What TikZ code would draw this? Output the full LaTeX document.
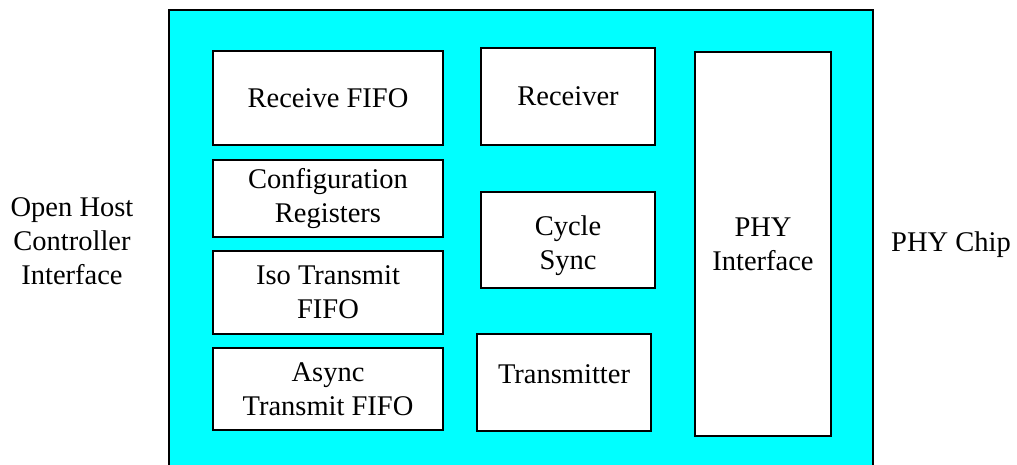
\documentclass[tikz,border=0pt]{standalone}
\usepackage{fontspec}
\setmainfont{Liberation Serif}
\definecolor{chipcyan}{RGB}{0,255,255}

\begin{document}
\begin{tikzpicture}[x=1pt,y=-1pt,line width=1.5pt,
		lbl/.style={align=center,font=\fontsize{28.5}{34}\selectfont}]
				\useasboundingbox(0,0)rectangle(1017,465);
				\fill[chipcyan](169,10)rectangle(873,465);
				\draw(169,465)--(169,10)--(873,10)--(873,465);
				\node[lbl](ohci)at(72,241){Open Host\\Controller\\Interface};
				\node[lbl](phychip)at(951,245){PHY Chip};
				\draw[fill=white](213,51)rectangle(443,145)node[midway,lbl](rxfifo){Receive FIFO};
				\draw[fill=white](213,160)rectangle(443,237)node[midway,lbl](cfgreg){Configuration\\Registers};
				\draw[fill=white](213,251)rectangle(443,334)node[midway,lbl](isofifo){Iso Transmit\\FIFO};
				\draw[fill=white](213,348)rectangle(443,430)node[midway,lbl](asyfifo){Async\\Transmit FIFO};
				\draw[fill=white](481,48)rectangle(655,145)node[midway,lbl](rx){Receiver};
				\draw[fill=white](481,192)rectangle(655,288)node[midway,lbl,yshift=-6pt](cycsync){Cycle\\Sync};
				\draw[fill=white](477,334)rectangle(651,431)node[midway,lbl,yshift=8pt](tx){Transmitter};
				\draw[fill=white](695,52)rectangle(831,436)node[midway,lbl](phyif){PHY\\Interface};
			\end{tikzpicture}
\end{document}
